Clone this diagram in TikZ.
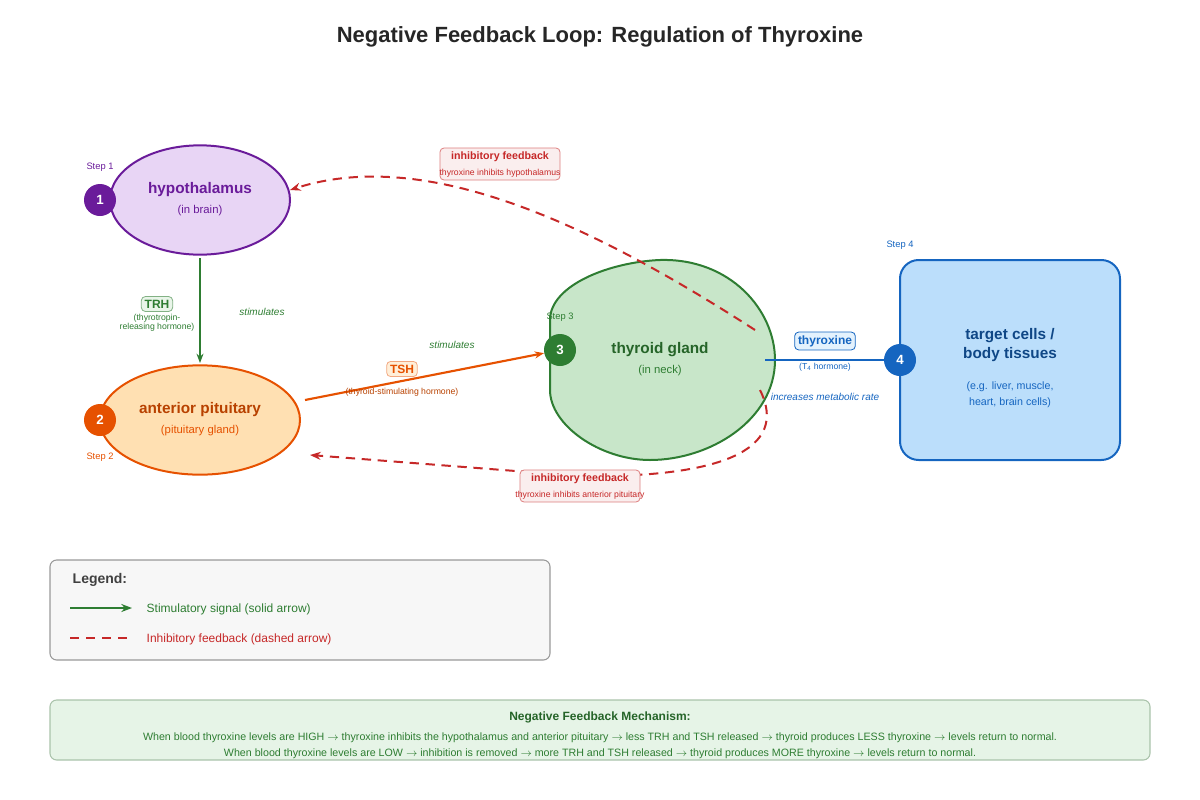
\documentclass[tikz,border=0pt]{standalone}
\usepackage{fontspec}
\setmainfont{Liberation Sans}
\usetikzlibrary{positioning,shapes.geometric,arrows.meta}
\definecolor{hypfill}{HTML}{E8D5F5}\definecolor{hypdraw}{HTML}{6A1B9A}
\definecolor{pitfill}{HTML}{FFE0B2}\definecolor{pitdraw}{HTML}{E65100}
\definecolor{thyfill}{HTML}{C8E6C9}\definecolor{thydraw}{HTML}{2E7D32}
\definecolor{tgtfill}{HTML}{BBDEFB}\definecolor{tgtdraw}{HTML}{1565C0}
\definecolor{inhred}{HTML}{C62828}
\newcommand{\fs}[1]{\fontsize{#1}{#1}\selectfont}
\begin{document}
\begin{tikzpicture}[
            x = 0.75pt, y = -0.75pt,
            organ/.style = {
                draw = #1,
                ellipse,
                line width = 1.5pt,
                inner sep = 0pt,
                align = center
            },
            step/.style = {
                circle,
                fill = #1,
                text = white,
                minimum size = 24pt,
                inner sep = 0pt,
                font = \fs{10}\bfseries
            },
            steplbl/.style = {font = \fs{7}, text = #1},
            tag/.style = {
                draw = #1,
                rounded corners = 3pt,
                line width = 0.6pt,
                inner sep = 2.5pt,
                font = \fs{9}\bfseries
            },
            note/.style = {font = \fs{6.5}, text = #1},
            verb/.style = {font = \fs{7.5}\itshape, text = #1},
            stim/.style = {line width = 1.6pt, -{Stealth[length=7pt]}},
            inhib/.style = {line width = 1.5pt, inhred, dash pattern = on 7pt off 5pt, -{Stealth[length=8pt]}}
            ]
            \useasboundingbox (0,0) rectangle (1200,800);
            \node[font=\fs{16.5}\bfseries, text=black!85] (title) at (600,37) {Negative Feedback Loop: Regulation of Thyroxine};

            % organs
            \node[organ=hypdraw, fill=hypfill, minimum width=135pt, minimum height=82pt] (hyp) at (200,200) {};
            \node[text=hypdraw, font=\fs{11.5}\bfseries] at (200,190) {hypothalamus};
            \node[text=hypdraw, font=\fs{8.5}] at (200,211) {(in brain)};
            \node[organ=pitdraw, fill=pitfill, minimum width=150pt, minimum height=82pt] (pit) at (200,420) {};
            \node[text=pitdraw!80!black, font=\fs{11.5}\bfseries] at (200,410) {anterior pituitary};
            \node[text=pitdraw, font=\fs{8.5}] at (200,431) {(pituitary gland)};
            \filldraw[fill=thyfill, draw=thydraw, line width=1.5pt] (550,320) .. controls (550,285) and (610,262) .. (660,260) .. controls (730,258) and (775,310) .. (775,360) .. controls (775,420) and (710,460) .. (650,460) .. controls (600,460) and (550,425) .. (550,390) -- cycle;
            \node[text=thydraw!80!black, font=\fs{11.5}\bfseries] (thy) at (660,350) {thyroid gland};
            \node[text=thydraw, font=\fs{8.5}] at (660,371) {(in neck)};
            \filldraw[fill=tgtfill, draw=tgtdraw, line width=1.5pt, rounded corners=14pt] (900,260) rectangle (1120,460);
            \node[text=tgtdraw!70!black, font=\fs{11.5}\bfseries, align=center] (tgt) at (1010,345) {target cells /\\[3pt]body tissues};
            \node[text=tgtdraw, font=\fs{8}, align=center] at (1010,395) {(e.g. liver, muscle,\\[4pt]heart, brain cells)};

            % steps
            \node[step=hypdraw] (s1) at (100,200) {1};
            \node[step=pitdraw] (s2) at (100,420) {2};
            \node[step=thydraw] (s3) at (560,350) {3};
            \node[step=tgtdraw] (s4) at (900,360) {4};
            \node[steplbl=hypdraw] at (100,167) {Step 1};
            \node[steplbl=pitdraw] at (100,457) {Step 2};
            \node[steplbl=thydraw] at (560,317) {Step 3};
            \node[steplbl=tgtdraw] at (900,245) {Step 4};

            % stimulatory signals
            \coordinate (trhA) at (200,258);
            \coordinate (trhB) at (200,363);
            \draw[stim, thydraw] (trhA) -- (trhB);
            \node[tag=thydraw!60, fill=thyfill!40, text=thydraw] (trh) at (157,304) {TRH};
            \node[note=thydraw, align=center] at (157,323) {(thyrotropin-\\releasing hormone)};
            \node[verb=thydraw] at (262,312) {stimulates};
            \coordinate (tshA) at (305,400);
            \draw[stim, pitdraw] (tshA) -- (s3);
            \node[tag=pitdraw!50, fill=pitfill!50, text=pitdraw] (tsh) at (402,369) {TSH};
            \node[note=pitdraw!80!black] at (402,392) {(thyroid-stimulating hormone)};
            \node[verb=thydraw] at (452,345) {stimulates};
            \coordinate (t4A) at (765,360);
            \draw[line width=1.6pt, tgtdraw] (t4A) -- (s4);
            \node[tag=tgtdraw, fill=tgtfill!40, text=tgtdraw] (t4) at (825,341) {thyroxine};
            \node[note=tgtdraw] at (825,367) {(T\textsubscript{4} hormone)};
            \node[verb=tgtdraw] at (825,397) {increases metabolic rate};

            % inhibitory feedback
            \coordinate (fbA) at (755,330);
            \coordinate (fbB) at (760,390);
            \coordinate (hypR) at (290,190);
            \coordinate (pitR) at (310,455);
            \draw[inhib] (fbA) .. controls (600,230) and (430,145) .. (hypR);
            \draw[inhib] (fbB) .. controls (790,450) and (720,478) .. (580,476) -- (pitR);
            \node[tag=inhred!60, fill=inhred!8, text=inhred, font=\fs{8}\bfseries, minimum width=90pt, minimum height=24pt, text depth=12pt] (inh1) at (500,164) {inhibitory feedback};
            \node[note=inhred] at (500,173) {thyroxine inhibits hypothalamus};
            \node[tag=inhred!60, fill=inhred!8, text=inhred, font=\fs{8}\bfseries, minimum width=90pt, minimum height=24pt, text depth=12pt] (inh2) at (580,486) {inhibitory feedback};
            \node[note=inhred] at (580,495) {thyroxine inhibits anterior pituitary};

            % legend
            \filldraw[fill=black!3, draw=black!40, line width=0.8pt, rounded corners=5pt] (50,560) rectangle (550,660);
            \node[font=\fs{10.5}\bfseries, text=black!75, anchor=west] (leg) at (68,580) {Legend:};
            \coordinate (lgA) at (70,608); \coordinate (lgB) at (132,608);
            \coordinate (lgC) at (70,638); \coordinate (lgD) at (132,638);
            \draw[stim, thydraw, -{Stealth[length=8pt]}] (lgA) -- (lgB);
            \draw[line width=1.5pt, inhred, dash pattern=on 7pt off 5pt] (lgC) -- (lgD);
            \node[font=\fs{9}, text=thydraw, anchor=west] at (142,609) {Stimulatory signal (solid arrow)};
            \node[font=\fs{9}, text=inhred, anchor=west] at (142,639) {Inhibitory feedback (dashed arrow)};

            % mechanism
            \filldraw[fill=thyfill!45, draw=thyfill!85!black, line width=0.8pt, rounded corners=5pt] (50,700) rectangle (1150,760);
            \node[font=\fs{9}\bfseries, text=thydraw!80!black] (mech) at (600,717) {Negative Feedback Mechanism:};
            \node[font=\fs{8}, text=thydraw] at (600,738) {When blood thyroxine levels are HIGH $\rightarrow$ thyroxine inhibits the hypothalamus and anterior pituitary $\rightarrow$ less TRH and TSH released $\rightarrow$ thyroid produces LESS thyroxine $\rightarrow$ levels return to normal.};
            \node[font=\fs{8}, text=thydraw] at (600,754) {When blood thyroxine levels are LOW $\rightarrow$ inhibition is removed $\rightarrow$ more TRH and TSH released $\rightarrow$ thyroid produces MORE thyroxine $\rightarrow$ levels return to normal.};
        \end{tikzpicture}
\end{document}
